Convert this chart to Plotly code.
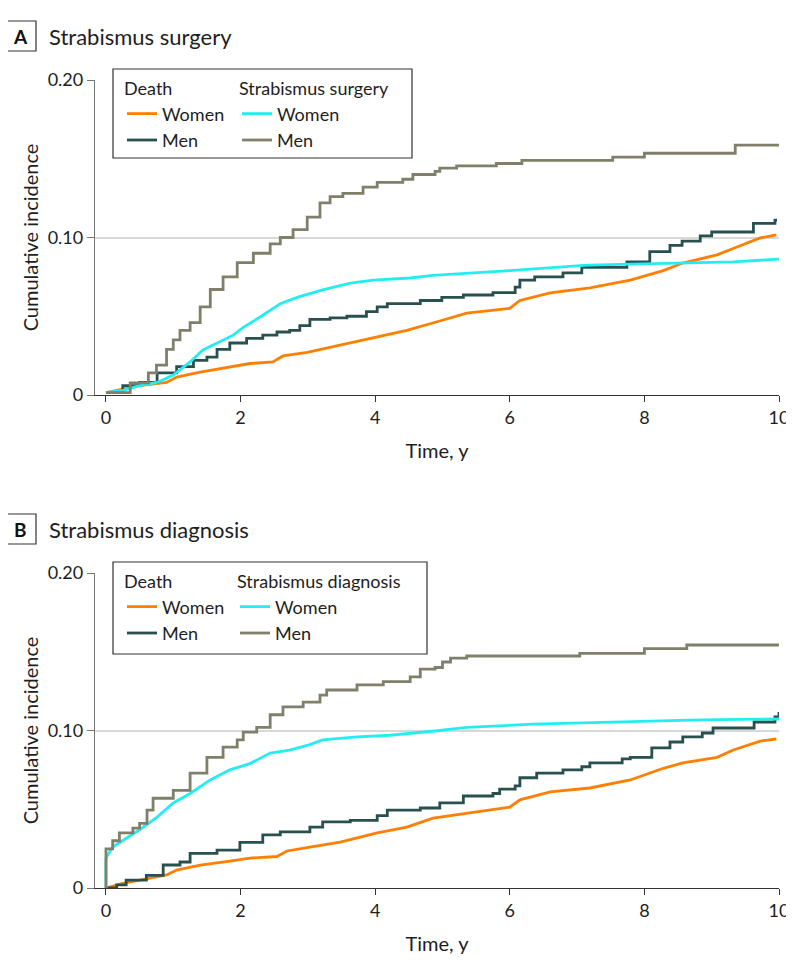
import plotly.graph_objects as go

# ---------------- Data ----------------
# Panel A: Strabismus surgery
a_death_women_t = [0, 0.5, 0.9, 1.05, 1.4, 1.84, 2.14, 2.48, 2.63, 2.99, 3.48, 4.03, 4.47, 4.96, 5.36, 6.0, 6.15, 6.6, 7.19, 7.79, 8.28, 8.57, 9.08, 9.32, 9.72, 9.96]
a_death_women_v = [0.0015, 0.006, 0.008, 0.0114, 0.0146, 0.0178, 0.020, 0.021, 0.0248, 0.027, 0.0317, 0.0368, 0.041, 0.047, 0.052, 0.055, 0.060, 0.0648, 0.068, 0.073, 0.079, 0.0838, 0.089, 0.093, 0.0997, 0.1016]

a_death_men_t = [0, 0.25, 0.5, 0.76, 1.05, 1.3, 1.5, 1.65, 1.84, 2.09, 2.33, 2.54, 2.73, 2.88, 3.03, 3.33, 3.58, 3.87, 4.03, 4.18, 4.67, 4.99, 5.31, 5.75, 6.08, 6.15, 6.37, 6.79, 7.07, 7.74, 8.08, 8.38, 8.56, 8.83, 9.0, 9.62, 9.94, 9.97]
a_death_men_v = [0.0015, 0.006, 0.008, 0.014, 0.018, 0.022, 0.024, 0.029, 0.033, 0.036, 0.038, 0.040, 0.041, 0.044, 0.048, 0.049, 0.050, 0.053, 0.056, 0.058, 0.060, 0.062, 0.0635, 0.065, 0.0685, 0.073, 0.075, 0.0775, 0.081, 0.0845, 0.091, 0.095, 0.0977, 0.101, 0.1035, 0.109, 0.111, 0.111]

a_event_women_t = [0, 0.25, 0.5, 0.76, 1.0, 1.25, 1.44, 1.65, 1.89, 2.04, 2.29, 2.59, 2.84, 3.22, 3.63, 3.97, 4.52, 4.86, 6.0, 7.15, 8.33, 9.32, 10]
a_event_women_v = [0.0015, 0.003, 0.006, 0.008, 0.0127, 0.021, 0.0286, 0.033, 0.038, 0.043, 0.0495, 0.058, 0.062, 0.0667, 0.071, 0.073, 0.0743, 0.076, 0.079, 0.0825, 0.0838, 0.0845, 0.0863]

a_event_men_t = [0, 0.36, 0.63, 0.75, 0.9, 1.0, 1.1, 1.25, 1.4, 1.55, 1.74, 1.95, 2.19, 2.44, 2.59, 2.78, 2.99, 3.18, 3.33, 3.52, 3.82, 4.03, 4.41, 4.56, 4.89, 4.96, 5.21, 5.8, 6.18, 7.53, 8.0, 9.35, 10]
a_event_men_v = [0.0015, 0.0077, 0.014, 0.019, 0.029, 0.035, 0.041, 0.046, 0.056, 0.067, 0.075, 0.084, 0.090, 0.096, 0.100, 0.105, 0.113, 0.122, 0.126, 0.128, 0.132, 0.135, 0.137, 0.140, 0.142, 0.144, 0.1455, 0.147, 0.149, 0.151, 0.1535, 0.1587, 0.1587]

# Panel B: Strabismus diagnosis
b_death_women_t = [0, 0.25, 0.5, 0.9, 1.05, 1.4, 1.84, 2.14, 2.54, 2.69, 3.03, 3.48, 4.03, 4.47, 4.86, 5.36, 6.0, 6.15, 6.6, 7.19, 7.79, 8.28, 8.57, 9.08, 9.32, 9.72, 9.96]
b_death_women_v = [0, 0.003, 0.005, 0.0083, 0.0114, 0.0146, 0.017, 0.019, 0.020, 0.0235, 0.026, 0.0292, 0.035, 0.0387, 0.0444, 0.0476, 0.0514, 0.056, 0.061, 0.0635, 0.0686, 0.076, 0.0794, 0.083, 0.0876, 0.0933, 0.0946]

b_death_men_t = [0, 0.16, 0.3, 0.6, 0.85, 1.1, 1.25, 1.65, 1.99, 2.33, 2.59, 3.03, 3.22, 3.63, 4.03, 4.18, 4.67, 4.96, 5.31, 5.75, 5.85, 6.08, 6.15, 6.4, 6.79, 7.07, 7.19, 7.67, 7.79, 8.11, 8.38, 8.57, 8.86, 9.02, 9.63, 9.94, 10.0]
b_death_men_v = [0, 0.002, 0.005, 0.008, 0.0146, 0.0165, 0.022, 0.024, 0.029, 0.0337, 0.0356, 0.0387, 0.042, 0.043, 0.046, 0.0495, 0.0508, 0.054, 0.0584, 0.060, 0.0628, 0.0648, 0.070, 0.073, 0.075, 0.077, 0.0794, 0.082, 0.083, 0.089, 0.0927, 0.096, 0.0984, 0.1016, 0.1054, 0.1086, 0.1117]

b_event_women_t = [0, 0, 0.1, 0.25, 0.5, 0.76, 1.0, 1.25, 1.55, 1.84, 2.14, 2.44, 2.73, 3.03, 3.22, 3.73, 4.22, 4.96, 5.36, 6.35, 7.83, 8.83, 10]
b_event_women_v = [0, 0.019, 0.026, 0.030, 0.037, 0.045, 0.054, 0.060, 0.0686, 0.075, 0.079, 0.0857, 0.0876, 0.091, 0.094, 0.096, 0.097, 0.100, 0.102, 0.104, 0.1054, 0.1067, 0.1073]

b_event_men_t = [0, 0, 0.1, 0.2, 0.4, 0.5, 0.61, 0.7, 1.0, 1.25, 1.5, 1.74, 1.95, 2.04, 2.24, 2.44, 2.63, 2.93, 3.18, 3.28, 3.73, 4.12, 4.52, 4.67, 4.89, 5.0, 5.12, 5.36, 7.04, 8.0, 8.63, 10]
b_event_men_v = [0, 0.0248, 0.030, 0.035, 0.038, 0.041, 0.0495, 0.057, 0.062, 0.073, 0.083, 0.0895, 0.094, 0.099, 0.102, 0.110, 0.115, 0.118, 0.1225, 0.1257, 0.129, 0.131, 0.134, 0.139, 0.140, 0.1435, 0.146, 0.1473, 0.149, 0.152, 0.1543, 0.1543]

x_ticks = [0, 2, 4, 6, 8, 10]
y_ticks = [0, 0.10, 0.20]
y_tick_labels = ["0", "0.10", "0.20"]
panel_letters = ["A", "B"]
panel_titles = ["Strabismus surgery", "Strabismus diagnosis"]
group_titles = ["Death", "Strabismus surgery", "Death", "Strabismus diagnosis"]
sex_labels = ["Women", "Men"]

# ---------------- Styling ----------------
OFF = 8                      # page body margin in the browser
W, H = 794 - OFF, 976 - 2 * OFF
FONT = "Lato, 'Open Sans', sans-serif"
C_DW, C_DM, C_EW, C_EM = "#ff7f00", "#27504f", "#22eef2", "#7f7f6a"
LW = 2.8
TXT = "#1e1e1e"


def px_x(p):
    return (p - OFF) / W


def px_y(p):
    return 1 - (p - OFF) / H


fig = go.Figure()

panels = [
    dict(xa="x", ya="y",
         series=[(a_death_women_t, a_death_women_v, C_DW, "linear", "legend"),
                 (a_death_men_t, a_death_men_v, C_DM, "hv", "legend"),
                 (a_event_women_t, a_event_women_v, C_EW, "linear", "legend2"),
                 (a_event_men_t, a_event_men_v, C_EM, "hv", "legend2")]),
    dict(xa="x2", ya="y2",
         series=[(b_death_women_t, b_death_women_v, C_DW, "linear", "legend3"),
                 (b_death_men_t, b_death_men_v, C_DM, "hv", "legend3"),
                 (b_event_women_t, b_event_women_v, C_EW, "linear", "legend4"),
                 (b_event_men_t, b_event_men_v, C_EM, "hv", "legend4")]),
]

for p in panels:
    for i, (t, v, c, shape, lg) in enumerate(p["series"]):
        fig.add_trace(go.Scatter(
            x=t, y=v, mode="lines", name=sex_labels[i % 2],
            line=dict(color=c, width=LW, shape=shape),
            xaxis=p["xa"], yaxis=p["ya"], legend=lg, showlegend=True,
        ))

axis_common_x = dict(
    range=[-0.163, 10], tickvals=x_ticks, ticks="outside", ticklen=6,
    tickcolor="#333", showline=True, linecolor="#333", linewidth=1.3,
    showgrid=False, zeroline=False, tickfont=dict(size=18, color=TXT, family=FONT),
    ticklabeloverflow="allow",
    title=dict(text="Time, y", font=dict(size=20, color=TXT, family=FONT), standoff=17),
    automargin=False, fixedrange=True,
)
axis_common_y = dict(
    range=[0, 0.2], tickvals=y_ticks, ticktext=y_tick_labels, ticks="outside",
    ticklen=7, tickcolor="#777", showline=True, linecolor="#777", linewidth=1.3,
    showgrid=True, gridcolor="#d8d8d8", gridwidth=1.6, zeroline=False,
    tickfont=dict(size=18, color=TXT, family=FONT),
    title=dict(text="Cumulative incidence", font=dict(size=20, color=TXT, family=FONT), standoff=3),
    automargin=False, fixedrange=True,
)

x_dom = [px_x(95), px_x(779)]
fig.update_layout(
    xaxis=dict(domain=x_dom, anchor="y", **axis_common_x),
    yaxis=dict(domain=[px_y(395), px_y(80)], anchor="x", **axis_common_y),
    xaxis2=dict(domain=x_dom, anchor="y2", **axis_common_x),
    yaxis2=dict(domain=[px_y(888), px_y(573)], anchor="x2", **axis_common_y),
)

legend_style = dict(
    xanchor="left", yanchor="top", bgcolor="rgba(0,0,0,0)", borderwidth=0,
    font=dict(size=18, color=TXT, family=FONT), tracegroupgap=0,
    itemclick=False, itemdoubleclick=False,
)
legend_pos = [(122, 72), (237, 72), (122, 72 + 493), (235, 72 + 493)]
legend_keys = ["legend", "legend2", "legend3", "legend4"]
for key, (lx, ly), gt in zip(legend_keys, legend_pos, group_titles):
    fig.update_layout({key: dict(x=px_x(lx), y=px_y(ly),
                                 title=dict(text=gt, font=dict(size=18, color=TXT, family=FONT)),
                                 **legend_style)})

shapes = []
annotations = []
legend_boxes = [(113, 69, 412, 158), (113, 562, 427, 654)]
for (x0, y0, x1, y1) in legend_boxes:
    shapes.append(dict(type="rect", xref="paper", yref="paper",
                       x0=px_x(x0), x1=px_x(x1), y0=px_y(y1), y1=px_y(y0),
                       line=dict(color="#333", width=1.2), fillcolor="rgba(0,0,0,0)"))

for k, (letter, title) in enumerate(zip(panel_letters, panel_titles)):
    off = 493 * k
    shapes.append(dict(type="rect", xref="paper", yref="paper",
                       x0=px_x(6), x1=px_x(36), y0=px_y(51 + off), y1=px_y(21 + off),
                       line=dict(color="#333", width=1.2), fillcolor="white"))
    annotations.append(dict(text=f"<b>{letter}</b>", xref="paper", yref="paper",
                            x=px_x(21), y=px_y(36 + off), xanchor="center", yanchor="middle",
                            showarrow=False, font=dict(size=19, color="#111", family=FONT)))
    annotations.append(dict(text=title, xref="paper", yref="paper",
                            x=px_x(47), y=px_y(36 + off), xanchor="left", yanchor="middle",
                            showarrow=False, font=dict(size=22, color=TXT, family=FONT)))

fig.update_layout(
    width=W, height=H, margin=dict(l=0, r=0, t=0, b=0),
    paper_bgcolor="white", plot_bgcolor="white",
    font=dict(family=FONT, color=TXT),
    shapes=shapes, annotations=annotations,
)

fig.write_html("out.html")
